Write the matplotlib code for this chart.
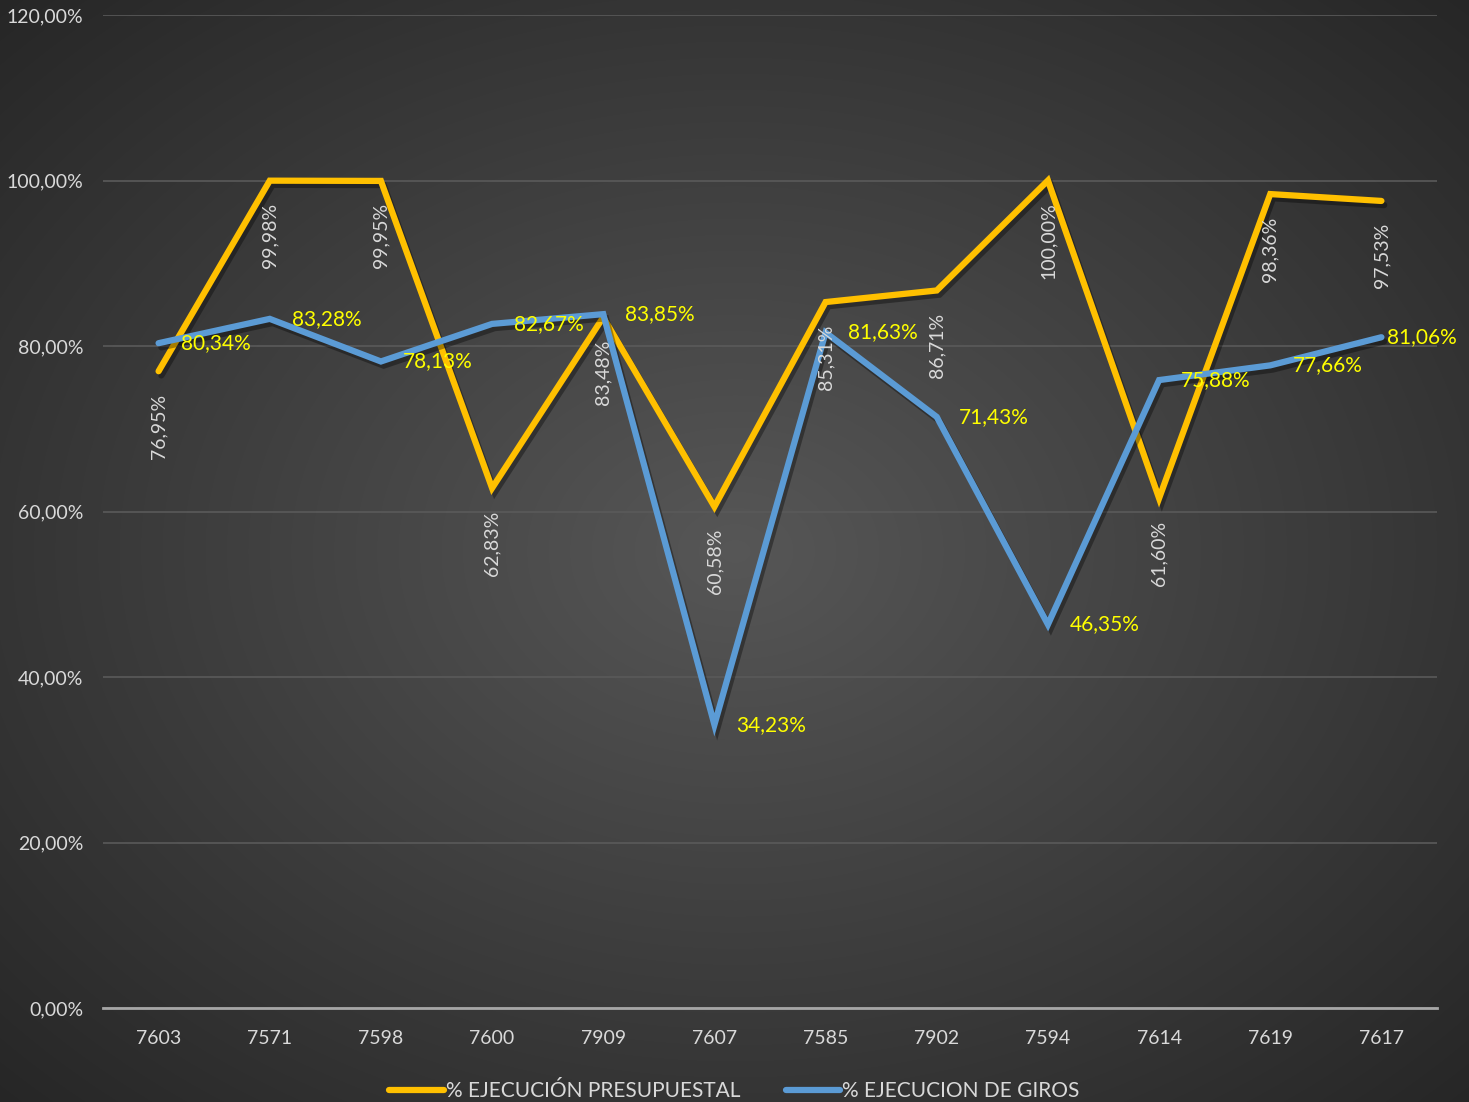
import numpy as np
import matplotlib
matplotlib.use("Agg")
import matplotlib.pyplot as plt
import matplotlib.patheffects as pe
from matplotlib.ticker import FuncFormatter, MultipleLocator

# data
categories = ["7603", "7571", "7598", "7600", "7909", "7607",
              "7585", "7902", "7594", "7614", "7619", "7617"]
presupuestal = [76.95, 99.98, 99.95, 62.83, 83.48, 60.58,
                85.31, 86.71, 100.00, 61.60, 98.36, 97.53]
giros = [80.34, 83.28, 78.13, 82.67, 83.85, 34.23,
         81.63, 71.43, 46.35, 75.88, 77.66, 81.06]

YELLOW = "#FFC000"
BLUE = "#5B9BD5"
TEXT = "#D9D9D9"

plt.rcParams["font.family"] = ["Lato", "DejaVu Sans"]


def pct(v):
    return f"{v:.2f}%".replace(".", ",")


fig = plt.figure(figsize=(14.69, 11.02), dpi=100)

# radial gradient background
bg = fig.add_axes([0, 0, 1, 1], zorder=0)
yy, xx = np.mgrid[0:1102, 0:1469]
r = np.sqrt(((xx - 735) / 735.0) ** 2 + ((yy - 551) / 551.0) ** 2) / np.sqrt(2)
shade = 0.34 - 0.19 * np.clip(r, 0, 1)
rgb = np.dstack([shade, shade, shade])
bg.imshow(rgb, aspect="auto", extent=[0, 1, 0, 1], interpolation="bilinear")
bg.axis("off")

ax = fig.add_axes([103 / 1469, 94 / 1102, 1334 / 1469, 993 / 1102], zorder=1)
ax.patch.set_alpha(0)
x = np.arange(len(categories))

shadow = [pe.SimpleLineShadow(offset=(2, -3), shadow_color="black", alpha=0.35),
          pe.Normal()]
ax.plot(x, presupuestal, color=YELLOW, lw=4.5, solid_capstyle="round",
        solid_joinstyle="miter", label="% EJECUCIÓN PRESUPUESTAL",
        path_effects=shadow, zorder=3)
ax.plot(x, giros, color=BLUE, lw=4.5, solid_capstyle="round",
        solid_joinstyle="miter", label="% EJECUCION DE GIROS",
        path_effects=shadow, zorder=4)

for xi, v in zip(x, presupuestal):
    ax.annotate(pct(v), (xi, v), xytext=(0, -16), textcoords="offset points",
                rotation=90, ha="center", va="top", color=TEXT, fontsize=14,
                zorder=5)
for xi, v in zip(x, giros):
    dx = 4 if xi == x[-1] else 16
    ax.annotate(pct(v), (xi, v), xytext=(dx, 0), textcoords="offset points",
                ha="left", va="center", color="#FFFF00", fontsize=15, zorder=5)

ax.set_xlim(-0.5, len(categories) - 0.5)
ax.set_ylim(0, 120)
ax.yaxis.set_major_locator(MultipleLocator(20))
ax.yaxis.set_major_formatter(FuncFormatter(lambda v, p: pct(v)))
ax.set_xticks(x)
ax.set_xticklabels(categories)
ax.tick_params(axis="both", length=0, colors=TEXT, labelsize=14)
ax.tick_params(axis="y", pad=14)
ax.tick_params(axis="x", pad=16)
ax.grid(axis="y", color="#5a5a5a", lw=1.2)
ax.set_axisbelow(True)
for s in ["top", "right", "left"]:
    ax.spines[s].set_visible(False)
ax.spines["bottom"].set_color("#A6A6A6")
ax.spines["bottom"].set_linewidth(2)

leg = fig.legend(loc="lower center", ncol=2, frameon=False, fontsize=15,
                 bbox_to_anchor=(0.5, -0.016), handlelength=2.6,
                 handletextpad=0.1, columnspacing=2.2)
for t in leg.get_texts():
    t.set_color(TEXT)
for h in leg.legend_handles:
    h.set_path_effects([])

fig.savefig("out.png", dpi=100)
